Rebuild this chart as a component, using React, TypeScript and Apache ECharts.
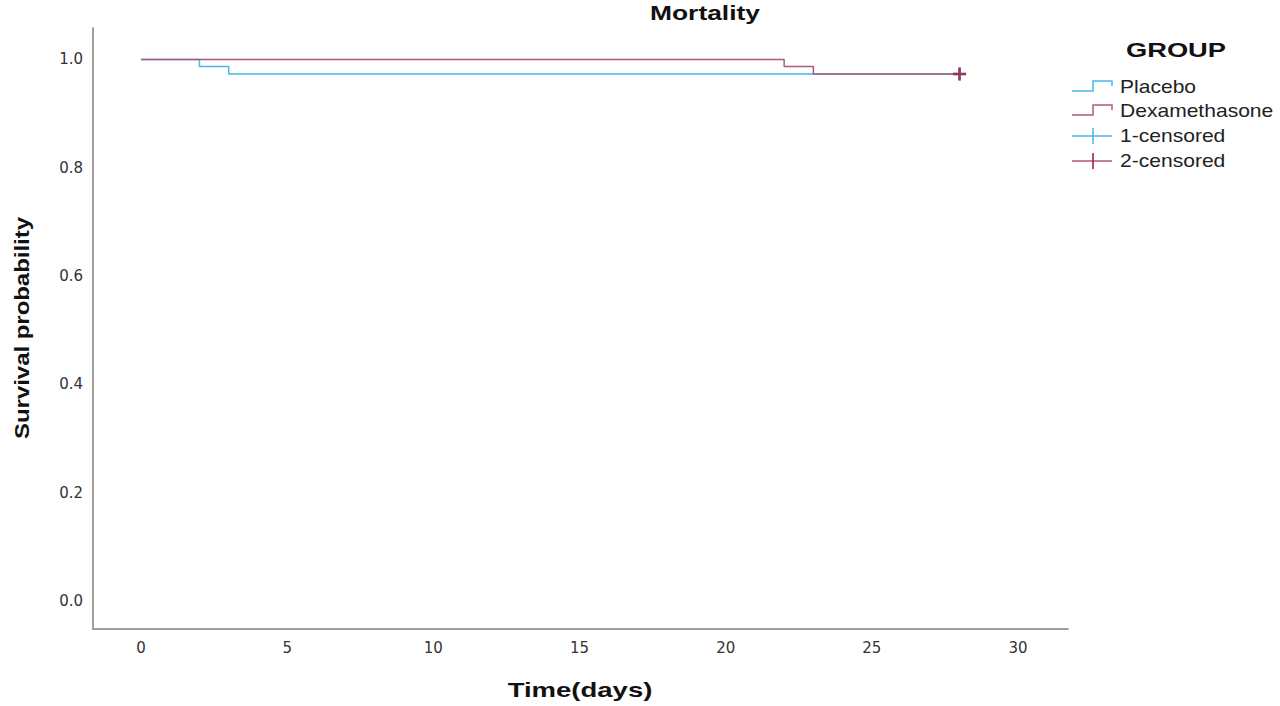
import React, { useEffect, useRef } from "react";
import * as echarts from "echarts";

const xTicks = [0, 5, 10, 15, 20, 25, 30];
const yTicks = [0, 0.2, 0.4, 0.6, 0.8, 1.0];

const placeboTimes = [0, 2, 3, 28];
const placeboSurv = [1.0, 0.987, 0.973, 0.973];
const dexaTimes = [0, 22, 23, 28];
const dexaSurv = [1.0, 0.987, 0.973, 0.973];

const censored1 = [[28, 0.973]];
const censored2 = [[28, 0.973]];

const legendItems = ["Placebo", "Dexamethasone", "1-censored", "2-censored"];

const BLUE = "#45b9e8";
const MAUVE = "#b0587a";
const CENSOR2 = "#a3123f";
const SANS = "'Liberation Sans', Arial, sans-serif";

function stepPoints(times: number[], surv: number[]) {
  const pts: number[][] = [];
  for (let i = 0; i < times.length; i++) {
    if (i > 0) pts.push([times[i], surv[i - 1]]);
    pts.push([times[i], surv[i]]);
  }
  return pts;
}

const PLUS = "path://M4,0H6V4H10V6H6V10H4V6H0V4H4Z";

export default function App() {
  const ref = useRef<HTMLDivElement>(null);
  useEffect(() => {
    document.body.style.margin = "0";
    const chart = echarts.init(ref.current!, null, { renderer: "svg" });
    const legendX = 1072;
    const rowY = [87, 111, 136, 161];
    const textEl = (
      text: string,
      x: number,
      y: number,
      font: string,
      scaleX: number,
      align: string,
      rotation = 0
    ) => ({
      type: "text",
      x,
      y,
      scaleX,
      rotation,
      style: {
        text,
        font,
        fill: "#111",
        textAlign: align,
        textVerticalAlign: "middle",
      },
    });
    const legendGraphics: any[] = [
      textEl("GROUP", 1176, 50, `bold 21px ${SANS}`, 1.3, "center"),
    ];
    legendItems.forEach((name, i) => {
      const y = rowY[i];
      const color = i % 2 === 0 ? BLUE : MAUVE;
      if (i < 2) {
        legendGraphics.push({
          type: "polyline",
          shape: {
            points: [
              [legendX, y + 4],
              [legendX + 21, y + 4],
              [legendX + 21, y - 6],
              [legendX + 40, y - 6],
              [legendX + 40, y - 1],
            ],
          },
          style: { stroke: color, lineWidth: 1.5, fill: "none" },
        });
      } else {
        legendGraphics.push({
          type: "line",
          shape: { x1: legendX, y1: y, x2: legendX + 40, y2: y },
          style: { stroke: color, lineWidth: 1.5 },
        });
        legendGraphics.push({
          type: "line",
          shape: { x1: legendX + 21, y1: y - 8, x2: legendX + 21, y2: y + 8 },
          style: { stroke: i === 3 ? CENSOR2 : BLUE, lineWidth: 1.5 },
        });
      }
      const t: any = textEl(name, legendX + 48, y, `18px ${SANS}`, 1.17, "left");
      t.style.fill = "#222";
      legendGraphics.push(t);
    });

    chart.setOption({
      animation: false,
      backgroundColor: "#fff",
      grid: { left: 93, top: 28, right: 212, bottom: 77, containLabel: false },
      graphic: [
        textEl("Mortality", 705, 13, `bold 20px ${SANS}`, 1.32, "center"),
        textEl("Time(days)", 580, 690, `bold 21px ${SANS}`, 1.31, "center"),
        textEl(
          "Survival probability",
          22,
          328,
          `bold 21px ${SANS}`,
          1.14,
          "center",
          Math.PI / 2
        ),
        ...legendGraphics,
      ],
      xAxis: {
        type: "value",
        min: -1.642,
        max: 31.71,
        axisLine: { show: true, onZero: false, lineStyle: { color: "#a0a0a0", width: 2 } },
        axisTick: { show: false },
        splitLine: { show: false },
        axisLabel: {
          customValues: xTicks,
          margin: 11,
          fontFamily: "'DejaVu Sans', Verdana, sans-serif",
          fontSize: 15,
          color: "#333",
        },
      },
      yAxis: {
        type: "value",
        min: -0.0517,
        max: 1.058,
        axisLine: { show: true, onZero: false, lineStyle: { color: "#a0a0a0", width: 2 } },
        axisTick: { show: false },
        splitLine: { show: false },
        axisLabel: {
          customValues: yTicks,
          margin: 10,
          formatter: (v: number) => v.toFixed(1),
          fontFamily: "'DejaVu Sans', Verdana, sans-serif",
          fontSize: 15,
          color: "#333",
        },
      },
      series: [
        {
          name: "Placebo",
          type: "line",
          data: stepPoints(placeboTimes, placeboSurv),
          showSymbol: false,
          lineStyle: { color: BLUE, width: 1.5 },
          z: 2,
        },
        {
          name: "Dexamethasone",
          type: "line",
          data: stepPoints(dexaTimes, dexaSurv),
          showSymbol: false,
          lineStyle: { color: MAUVE, width: 1.5 },
          z: 3,
        },
        {
          name: "1-censored",
          type: "scatter",
          data: censored1,
          symbol: PLUS,
          symbolSize: 13,
          itemStyle: { color: BLUE },
          z: 4,
        },
        {
          name: "2-censored",
          type: "scatter",
          data: censored2,
          symbol: PLUS,
          symbolSize: 13,
          itemStyle: { color: CENSOR2 },
          z: 5,
        },
      ],
    });
    return () => chart.dispose();
  }, []);
  return (
    <div
      ref={ref}
      style={{ position: "absolute", left: 0, top: 0, width: 1280, height: 706 }}
    />
  );
}
